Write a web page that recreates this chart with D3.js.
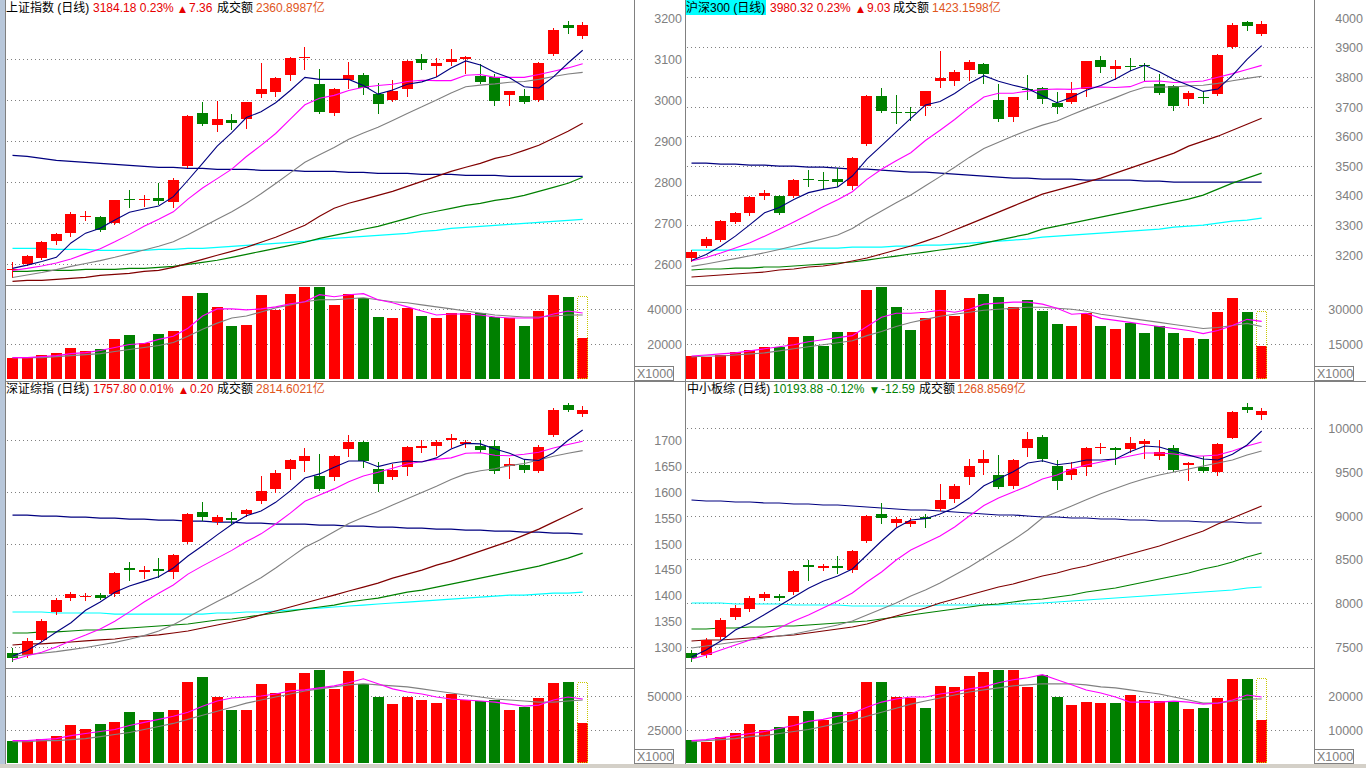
<!DOCTYPE html>
<html><head><meta charset="utf-8">
<script src="https://cdnjs.cloudflare.com/ajax/libs/d3/7.8.5/d3.min.js"></script>
<style>html,body{margin:0;padding:0;background:#fff;overflow:hidden}svg{display:block}</style>
</head><body>
<svg id="c" width="1366" height="768"></svg>
<script>
// ---------------- 上证指数 ----------------
const shTitle=['上证指数 (日线)','3184.18 0.23%','▲','7.36','成交额','2360.8987亿'];
const shOpen=[2588,2600,2614.6,2656.1,2675.6,2716,2714.6,2700,2759,2758,2761,2751.2,2839,2968.3,2939,2951.2,2953.7,3014.6,3019.5,3061,3103.5,3039,2968.3,3048.8,3061,3014.6,3000,3026.8,3100,3082.9,3092.7,3100,3058.5,3056.1,3012.2,3009.8,3000,3112.2,3182.9,3158.5];
const shHigh=[2604.9,2622,2656,2675.6,2726.8,2729.3,2717.1,2758,2780.5,2768.3,2797.6,2810,2963,2995.1,2997.6,2965.9,2997,3090.2,3056,3105,3129.3,3075.6,3029.3,3092.7,3065.9,3041.5,3048.8,3097.6,3112.2,3102.4,3124.4,3107.3,3087.8,3063.4,3023,3026.8,3092.7,3175.6,3192.7,3190.2];
const shLow=[2568.3,2597.6,2612,2648.8,2668.3,2707.3,2680.5,2698,2739,2741.5,2746.3,2739,2837,2939,2924.4,2929.3,2931.7,3007.3,3009.8,3048.8,3075.6,2970,2963.4,3029.3,3014.6,2968.3,2999,3009.8,3075.6,3058.5,3085.4,3065.9,3041.5,2987.8,2987.8,2992.7,2998,3111,3163.4,3151.2];
const shClose=[2589.5,2619.5,2653.7,2673.2,2722,2717.1,2682.9,2756.1,2758,2759,2753.7,2804.9,2961,2941.5,2953.7,2943.9,2995.1,3026.8,3053.7,3102.4,3104.9,2970.7,3026.8,3061,3029.3,2990.2,3022,3095.1,3090.2,3090.2,3100,3104.9,3043.9,2997.6,3022,2995.1,3090.2,3170.7,3176.8,3184.18];
const shMa5=[2590,2598,2607,2617,2652,2676,2688,2708,2727,2735,2742,2765,2805,2846,2888,2921,2958,2972,2994,3024,3056,3051,3051,3051,3036,3015,3025,3039,3045,3057,3079,3096,3086,3068,3055,3033,3030,3057,3091,3122];
const shMa10=[2585,2590,2596,2603,2613,2626,2638,2655,2673,2693,2710,2728,2759,2786,2809,2832,2863,2890,2919,2954,2989,3005,3012,3024,3032,3036,3039,3046,3049,3048,3048,3061,3063,3056,3056,3056,3063,3071,3079,3089];
const shMa20=[2568,2574,2580,2587,2595,2602,2609,2617,2626,2635,2644,2655,2672,2691,2710,2728,2749,2772,2797,2823,2849,2867,2885,2905,2920,2934,2951,2968,2984,3001,3018,3033,3037,3040,3044,3046,3051,3058,3064,3068];
const shMa60=[2558.5,2561,2561,2563.4,2565.9,2568.3,2573.2,2575.6,2578,2582.9,2585.4,2592.7,2602.4,2612.2,2622,2631.7,2641.5,2653.7,2665.9,2680.5,2695.1,2717.1,2736.6,2748.8,2758.5,2768.3,2778,2790.2,2802.4,2814.6,2826.8,2836.6,2846.3,2858.5,2865.9,2878,2890.2,2907.3,2924.4,2943.9];
const shMa120=[2582.9,2582.9,2585.4,2585.4,2585.4,2587.8,2587.8,2587.8,2590.2,2590.2,2592.7,2595.1,2600,2604.9,2609.8,2617.1,2624.4,2631.7,2639,2646.3,2653.7,2663.4,2670.7,2678,2685.4,2692.7,2702.4,2712.2,2722,2729.3,2736.6,2743.9,2748.8,2756.1,2761,2768.3,2778,2787.8,2797.6,2812.2];
const shMa250=[2865.9,2863.4,2858.5,2853.7,2851.2,2848.8,2846.3,2843.9,2841.5,2839,2836.6,2836.6,2834.1,2834.1,2831.7,2831.7,2831.7,2829.3,2829.3,2829.3,2826.8,2826.8,2826.8,2824.4,2824.4,2822,2822,2822,2819.5,2819.5,2819.5,2817.1,2817.1,2817.1,2814.6,2814.6,2814.6,2814.6,2814.6,2814.6];
const shMaCyan=[2639,2639,2639,2636.6,2636.6,2636.6,2634.1,2634.1,2634.1,2634.1,2636.6,2636.6,2639,2639,2641.5,2643.9,2646.3,2648.8,2651.2,2653.7,2656.1,2661,2663.4,2665.9,2668.3,2670.7,2673.2,2675.6,2680.5,2682.9,2687.8,2690.2,2692.7,2695.1,2697.6,2700,2702.4,2704.9,2707.3,2709.8];
const shVol=[12243,12243,13992,15158,18073,16324,17490,22737,25069,20405,25652,27401,47806,49555,41393,30316,30899,48389,39644,48972,53053,53053,42559,48972,46640,35563,34980,40810,36146,34980,37895,37895,37895,35563,34980,30316,39061,48389,47223,23320];
const shVolForecast=47806;
const shVolMa5=[12243,12243,12826,13409,14575,15158,16324,18073,19822,20405,22737,24486,29150,36146,40227,40227,39644,40227,41393,43142,44308,48389,47223,48389,48972,45474,43725,41393,39061,36729,37312,37312,36729,35563,34980,34980,34980,37312,39061,37895];
const shVolMa10=[12243,12243,12243,12826,13409,13992,14575,15741,16907,18073,19239,20988,24486,28567,32065,34980,36146,38478,40810,42559,44308,45474,45474,46057,46640,45474,44308,43725,42559,41393,40227,39061,37895,36729,36146,35563,35563,36146,36729,36729];
const shTicks=[3200,3100,3000,2900,2800,2700,2600];
const shGrid=[3100,3000,2900,2800,2700,2600];
const shVolTicks=[40000,20000];

// ---------------- 沪深300 ----------------
const hsTitle=['沪深300 (日线)','3980.32 0.23%','▲','9.03','成交额','1423.1598亿'];
const hsOpen=[3188,3228.6,3249,3309.5,3340,3397,3397,3397,3456,3453,3455,3431,3573,3735,3682,3680,3701,3785,3785,3822,3843,3721,3664,3760,3762,3711,3714,3758,3856,3826,3837,3839,3775,3768,3725,3733,3741,3900,3984,3947];
const hsHigh=[3215,3259,3316,3345,3397,3418,3400,3455,3485,3478,3492,3530,3738,3761,3738,3697,3753,3886,3822,3856,3846,3775,3733,3806,3765,3748,3782,3855,3870,3856,3863,3846,3809,3772,3752,3752,3876,3981,3988,3988];
const hsLow=[3178,3225,3245,3305,3335,3387,3336,3394,3431,3424,3431,3420,3570,3681,3644,3654,3670,3765,3772,3789,3778,3650,3650,3725,3711,3677,3712,3735,3816,3792,3822,3785,3741,3687,3704,3711,3740,3898,3957,3940];
const hsClose=[3208,3252,3313,3340,3394,3407,3340,3451,3453,3450,3445,3525,3735,3684,3680,3677,3751,3795,3816,3849,3809,3657,3731,3756,3725,3698,3745,3853,3833,3836,3835,3836,3745,3701,3745,3730,3873,3974,3971.29,3980.32];
const hsMa5=[3180,3200,3228,3262,3301,3341,3359,3386,3409,3420,3428,3465,3522,3568,3614,3660,3705,3717,3744,3778,3804,3785,3772,3760,3736,3713,3731,3755,3771,3793,3820,3839,3817,3791,3772,3751,3759,3805,3859,3906];
const hsMa10=[3178,3190,3205,3222,3240,3262,3285,3310,3335,3361,3385,3412,3454,3488,3517,3544,3585,3620,3656,3696,3732,3745,3745,3752,3757,3759,3758,3764,3766,3764,3767,3785,3786,3781,3783,3786,3799,3811,3825,3839];
const hsMa20=[3160,3168,3177,3186,3196,3206,3217,3229,3241,3253,3266,3288,3319,3347,3375,3401,3432,3463,3495,3528,3558,3579,3600,3620,3637,3651,3672,3692,3711,3730,3750,3765,3766,3766,3770,3772,3778,3787,3795,3802];
const hsMa60=[3124,3127.4,3130.8,3134.1,3137.5,3140.9,3147.6,3151,3157.7,3161.1,3167.8,3178,3188.1,3201.6,3215.1,3228.6,3245.4,3262.3,3282.6,3302.8,3323,3343.3,3363.5,3383.8,3404,3417.5,3431,3444.5,3458,3474.9,3491.7,3508.6,3525.5,3542.4,3566,3582.8,3599.7,3619.9,3640.2,3660.4];
const hsMa120=[3147.6,3151,3151,3154.3,3154.3,3157.7,3157.7,3161.1,3164.5,3167.8,3171.2,3174.6,3181.3,3188.1,3194.8,3201.6,3208.3,3215.1,3221.8,3228.6,3238.7,3248.8,3258.9,3269.1,3285.9,3296.1,3306.2,3316.3,3326.4,3336.5,3346.7,3356.8,3366.9,3377,3387.2,3400.6,3420.9,3441.1,3458,3474.9];
const hsMa250=[3508.6,3508.6,3505.2,3505.2,3501.9,3501.9,3498.5,3498.5,3495.1,3495.1,3491.7,3488.4,3488.4,3485,3481.6,3478.3,3478.3,3474.9,3471.5,3468.1,3464.8,3461.4,3458,3458,3454.6,3454.6,3454.6,3451.3,3451.3,3451.3,3451.3,3447.9,3447.9,3444.5,3444.5,3444.5,3444.5,3444.5,3444.5,3444.5];
const hsMaCyan=[3215.1,3215.1,3215.1,3215.1,3218.5,3218.5,3218.5,3218.5,3221.8,3221.8,3221.8,3225.2,3225.2,3225.2,3228.6,3228.6,3232,3232,3235.3,3238.7,3242.1,3245.4,3248.8,3252.2,3258.9,3262.3,3265.7,3269.1,3272.4,3275.8,3279.2,3282.6,3285.9,3292.7,3296.1,3299.4,3306.2,3312.9,3316.3,3323];
const hsVol=[9813,9381,10245,11542,12407,13704,13704,18027,18459,14136,20188,20188,37913,39210,30564,21053,25808,37913,26673,34454,36184,34887,30564,33590,28834,23215,22350,27970,22350,21485,23647,19756,22350,19756,17595,17162,28402,34454,28402,14136];
const hsVolForecast=28834;
const hsVolMa5=[9813,10245,10678,11110,11975,12839,13704,14569,15865,16730,17595,18459,22350,26241,27970,27970,28402,29267,28402,29699,31861,32293,32725,32725,31861,30132,27538,27970,25808,24944,24079,23215,22350,21485,20621,19324,20621,22782,25376,24511];
const hsVolMa10=[9381,9813,9813,10245,10678,11110,11975,12839,13704,14569,15433,16297,18459,20188,22350,24079,25376,26673,27538,28402,29267,29699,30132,30564,30564,30132,29699,28834,27538,26673,25808,24944,24079,23215,22350,21485,21917,22782,23647,22350];
const hsTicks=[4000,3900,3800,3700,3600,3500,3400,3300,3200];
const hsGrid=[3900,3800,3700,3600,3500,3400,3300,3200];
const hsVolTicks=[30000,15000];

// ---------------- 深证综指 ----------------
const szTitle=['深证综指 (日线)','1757.80 0.01%','▲','0.20','成交额','2814.6021亿'];
const szOpen=[1288.5,1284.6,1313.6,1367.7,1394.7,1396.7,1400.5,1402.5,1452.7,1445,1450.8,1445,1502.9,1560.9,1541.6,1549.3,1557,1582.1,1605.3,1644,1659.4,1630.4,1628.5,1682.6,1696.1,1644,1628.5,1647.8,1684.5,1688.4,1700,1692.3,1688.4,1688.4,1649.8,1651.7,1640.1,1709.7,1767.6,1750.2];
const szHigh=[1298.1,1317.5,1354.2,1394.7,1406.3,1404.4,1404.4,1445,1464.3,1456.6,1472,1479.8,1559,1580.2,1555.1,1560.9,1566.7,1630.4,1642,1663.3,1684.5,1673,1671,1709.7,1698.1,1657.5,1653.6,1688.4,1700,1700,1711.6,1700,1700,1700,1665.2,1661.4,1690.3,1761.8,1771.5,1765.7];
const szLow=[1273,1280.8,1311.7,1363.8,1390.9,1390.9,1392.8,1398.6,1429.5,1433.4,1435.3,1433.4,1501,1545.4,1537.7,1539.6,1553.2,1578.3,1599.5,1624.7,1640.1,1603.4,1622.7,1669.1,1647.8,1601.5,1624.7,1632.4,1676.8,1671,1686.5,1686.5,1676.8,1636.2,1626.6,1638.2,1638.2,1707.7,1756,1746.4];
const szClose=[1278.8,1311.7,1350.3,1390.9,1402.5,1398.6,1394.7,1443,1448.8,1448.8,1446.9,1477.8,1557,1551.2,1551.2,1545.4,1564.8,1601.5,1636.2,1661.4,1669.1,1605.3,1669.1,1696.1,1659.4,1615,1642,1686.5,1688.4,1696.1,1703.9,1696.1,1680.7,1640.1,1653.6,1642,1686.5,1758,1757.6,1757.8];
const szMa5=[1282,1293,1310,1329,1347,1371,1387,1406,1418,1427,1436,1453,1476,1496,1517,1537,1554,1563,1580,1602,1627,1635,1648,1660,1660,1649,1656,1660,1658,1666,1683,1694,1693,1683,1675,1663,1661,1676,1700,1720];
const szMa10=[1275,1283,1290,1300,1312,1323,1335,1350,1368,1387,1404,1420,1441,1457,1472,1487,1504,1519,1538,1559,1582,1594,1606,1620,1631,1638,1646,1654,1659,1663,1666,1675,1676,1671,1670,1673,1677,1685,1692,1698];
const szMa20=[1282,1285,1288,1291,1295,1299,1304,1309,1315,1322,1331,1343,1358,1373,1388,1402,1418,1434,1453,1473,1493,1507,1523,1539,1551,1562,1575,1587,1599,1611,1624,1635,1641,1645,1651,1655,1662,1669,1675,1680];
const szMa60=[1303.9,1305.9,1305.9,1307.8,1309.7,1311.7,1313.6,1315.5,1319.4,1321.3,1323.3,1327.1,1331,1336.8,1342.6,1348.4,1354.2,1361.9,1369.6,1377.4,1385.1,1392.8,1400.5,1408.3,1416,1423.7,1433.4,1441.1,1448.8,1458.5,1466.2,1475.9,1485.5,1495.2,1504.9,1516.5,1528.1,1541.6,1555.1,1568.6];
const szMa120=[1327.1,1327.1,1329.1,1329.1,1331,1332.9,1332.9,1334.9,1336.8,1338.7,1340.6,1342.6,1344.5,1348.4,1352.2,1354.2,1358,1361.9,1365.8,1369.6,1373.5,1377.4,1381.2,1387,1390.9,1394.7,1400.5,1406.3,1410.2,1416,1421.8,1427.6,1433.4,1439.2,1445,1450.8,1456.6,1464.3,1472,1481.7];
const szMa250=[1555.1,1555.1,1553.2,1553.2,1551.2,1551.2,1549.3,1549.3,1547.4,1547.4,1545.4,1545.4,1543.5,1543.5,1541.6,1541.6,1539.6,1539.6,1537.7,1537.7,1537.7,1535.8,1535.8,1533.8,1533.8,1531.9,1531.9,1530,1530,1528.1,1528.1,1526.1,1526.1,1524.2,1524.2,1522.3,1522.3,1520.3,1520.3,1518.4];
const szMaCyan=[1367.7,1367.7,1367.7,1365.8,1365.8,1365.8,1365.8,1363.8,1363.8,1363.8,1363.8,1363.8,1363.8,1363.8,1365.8,1365.8,1367.7,1367.7,1369.6,1371.6,1373.5,1375.4,1377.4,1379.3,1381.2,1383.2,1385.1,1387,1388.9,1390.9,1392.8,1394.7,1396.7,1398.6,1400.5,1400.5,1402.5,1404.4,1404.4,1406.3];
const szVol=[16667,16667,18182,20455,28031,25001,28789,30304,37880,31819,37880,39395,60608,64396,49244,39395,39395,59093,52274,59850,67426,69699,55305,68942,59093,49244,43941,49244,46971,44698,51517,46971,46214,46971,39395,41668,48486,59850,60608,29546];
const szVolForecast=60608;
const szVolMa5=[16667,16667,17425,18182,20455,21970,23486,25001,28031,30304,32577,34850,37880,42426,46214,48486,49244,50002,51517,53790,54547,56062,57578,59850,62881,59093,55305,53032,51517,49244,47729,46971,46214,45456,43941,42426,43183,46971,49244,47729];
const szVolMa10=[15910,15910,16667,16667,17425,18182,19698,21213,22728,25001,27274,29546,32577,35607,38638,41668,44698,46971,49244,51517,53790,55305,56820,58335,59093,58335,57578,56820,55305,53790,52274,50759,49244,47729,46971,46214,45456,45456,46214,46971];
const szTicks=[1700,1650,1600,1550,1500,1450,1400,1350,1300];
const szGrid=[1700,1600,1500,1400,1300];
const szVolTicks=[50000,25000];

// ---------------- 中小板综 ----------------
const zxTitle=['中小板综 (日线)','10193.88 -0.12%','▼','-12.59','成交额','1268.8569亿'];
const zxOpen=[7431.4,7408.6,7614,7842.4,7933.7,8059.3,8082.1,8127.8,8436,8401.8,8424.6,8378.9,8710,9018.2,8915.5,8904.1,8984,9075.3,9189.5,9440.6,9600.4,9463.4,9337.9,9771.7,9897.3,9566.2,9463.4,9554.8,9777,9771.7,9760.3,9817.3,9680.4,9771.7,9577.6,9554.8,9497.7,9885.8,10239.7,10148.4];
const zxHigh=[7465.6,7602.6,7830.9,7979.4,8082.1,8127.8,8104.9,8378.9,8493.1,8447.4,8538.8,8607.2,9006.8,9143.8,8984,8972.6,9018.2,9360.7,9360.7,9646.1,9748.8,9691.8,9646.1,9954.3,9920.1,9634.7,9611.9,9783.1,9828.8,9783.1,9897.3,9874.4,9863,9805.9,9611.9,9680.4,9828.8,10194.1,10285.4,10228.3];
const zxLow=[7340,7385.8,7591.2,7819.5,7910.9,8036.4,8036.4,8104.9,8264.8,8378.9,8344.7,8356.1,8698.6,8915.5,8881.2,8881.2,8869.8,9063.9,9155.2,9360.7,9474.9,9315,9315,9680.4,9623.3,9303.6,9417.8,9463.4,9714.6,9589,9726,9657.5,9646.1,9509.1,9406.4,9497.7,9463.4,9885.8,10182.7,10102.7];
const zxClose=[7374.3,7579.8,7808.1,7945.1,8059.3,8104.9,8059.3,8367.5,8413.2,8424.6,8401.8,8595.8,8995.4,8972.6,8961.1,8938.3,8961.1,9178.1,9337.9,9566.2,9646.1,9326.5,9634.7,9874.4,9646.1,9394.9,9531.9,9771.7,9783.1,9748.8,9828.8,9851.6,9726,9520.5,9600.4,9509.1,9817.3,10182.7,10206.47,10193.88];
const zxMa5=[7385.7,7465.6,7568.4,7694,7775,7870,7970,8070.7,8170,8250,8310.4,8390.3,8550,8710,8858.4,8950,8965,9018.2,9090,9200,9340,9420,9500,9600.4,9626,9580,9600,9634.7,9634.7,9646.1,9730,9794.5,9783.1,9735,9690,9646.1,9634,9700,9805.9,9965.8];
const zxMa10=[7362.9,7408.6,7465.6,7522.7,7579.8,7648.3,7716.8,7796.7,7865.2,7945.1,8025,8116.4,8242,8356.1,8493.1,8607.2,8687.2,8767.1,8869.8,8995.4,9115,9200.9,9269.4,9337.9,9417.8,9463.4,9531.9,9577.6,9611.9,9646.1,9680.4,9714.6,9714.6,9703.2,9680.4,9680.4,9691.8,9737.4,9794.5,9840.2];
const zxMa20=[7488.5,7511.3,7534.1,7557,7579.8,7602.6,7625.5,7648.3,7682.6,7716.8,7751,7796.7,7865.2,7933.7,8002.2,8082.1,8150.6,8230.5,8321.8,8413.2,8515.9,8618.7,8721.4,8835.6,8972.6,9040,9110,9180,9250,9310,9370,9420,9463.4,9497.7,9531.9,9566.2,9600.4,9634.7,9691.8,9737.4];
const zxMa60=[7568.4,7579.8,7579.8,7591.2,7602.6,7614,7625.5,7636.9,7659.7,7682.6,7705.4,7728.2,7762.5,7808.1,7853.8,7899.5,7945.1,8002.2,8047.9,8093.5,8139.2,8184.9,8219.1,8264.8,8310.4,8344.7,8390.3,8424.6,8470.3,8515.9,8561.6,8607.2,8652.9,8710,8767.1,8824.2,8904.1,8972.6,9041,9109.5];
const zxMa120=[7705.4,7705.4,7716.8,7716.8,7728.2,7728.2,7739.6,7739.6,7751,7762.5,7773.9,7785.3,7796.7,7819.5,7842.4,7865.2,7888.1,7910.9,7933.7,7956.5,7979.4,7990.8,8013.6,8036.4,8047.9,8070.7,8093.5,8127.8,8150.6,8173.4,8207.7,8241.9,8276.2,8310.4,8344.7,8390.3,8424.6,8470.3,8527.3,8573];
const zxMa250=[9178.1,9166.6,9166.6,9155.2,9155.2,9143.8,9143.8,9132.4,9132.4,9121,9121,9109.5,9098.1,9086.7,9075.3,9063.9,9063.9,9052.5,9041,9029.6,9018.2,9006.8,9006.8,8995.4,8984,8984,8972.6,8972.6,8961.1,8961.1,8949.7,8949.7,8938.3,8938.3,8938.3,8926.9,8926.9,8926.9,8915.5,8915.5];
const zxMaCyan=[8002.2,8002.2,8002.2,7990.8,7990.8,7990.8,7990.8,7979.4,7979.4,7979.4,7979.4,7968,7968,7968,7968,7968,7968,7979.4,7979.4,7979.4,7979.4,7979.4,7990.8,7990.8,8002.2,8013.6,8025,8036.4,8047.9,8059.3,8070.7,8082.1,8093.5,8104.9,8116.4,8127.8,8139.2,8150.6,8173.4,8184.9];
const zxVol=[6969,6363,7878,9090,11514,9999,10605,13938,15453,12726,15150,15150,24240,24240,19695,19392,16362,23028,22725,26058,27270,27876,27876,22725,26361,19695,17271,18180,17877,17877,20301,18786,18483,18180,16059,16362,19392,25149,25149,12726];
const zxVolForecast=25452;
const zxVolMa5=[6666,6969,7575,8181,8787,9393,10302,11211,12423,13029,13938,14847,16665,18180,19089,19695,19695,20604,21210,22119,22725,23937,24846,25452,26361,24846,23331,21816,20907,19695,18180,18180,18180,18483,18180,17574,17877,18786,20301,19695];
const zxVolMa10=[6363,6666,6969,7272,7878,8181,8787,9393,9999,10908,11817,12726,13938,15150,16362,17574,18483,19392,20301,21210,21816,22422,23028,23331,23634,23634,23634,23331,22725,22422,21816,21210,20604,19695,18786,17877,17877,18483,19089,19089];
const zxTicks=[10000,9500,9000,8500,8000,7500];
const zxGrid=[10000,9500,9000,8500,8000,7500];
const zxVolTicks=[20000,10000];

// ---------------- drawing ----------------
const RED='#ff0000', GREEN='#008000', GRAYC='#808080';
const FONT="'Liberation Sans','Noto Sans CJK SC',sans-serif";
const svg=d3.select('#c');
svg.append('rect').attr('width',1366).attr('height',768).attr('fill','#fff');

function drawPanel(p){
  const g=svg.append('g');
  const n=p.close.length;
  const idx=d3.range(n);
  const x=d3.scaleLinear().domain([0,39]).range([p.firstX,p.firstX+14.62*39]);
  const y=d3.scaleLinear().domain(p.priceDomain).range(p.priceRange);
  const yv=d3.scaleLinear().domain(p.volDomain).range(p.volRange);
  const px=i=>Math.round(x(i));

  g.selectAll(null).data(p.grid).join('line')
    .attr('x1',p.left+1).attr('x2',p.right-2)
    .attr('y1',d=>Math.round(y(d))+0.5).attr('y2',d=>Math.round(y(d))+0.5)
    .attr('stroke',GRAYC).attr('stroke-dasharray','1,3').attr('shape-rendering','crispEdges');
  g.selectAll(null).data(p.volTicks).join('line')
    .attr('x1',p.left+1).attr('x2',p.right-2)
    .attr('y1',d=>Math.round(yv(d))+0.5).attr('y2',d=>Math.round(yv(d))+0.5)
    .attr('stroke',GRAYC).attr('stroke-dasharray','1,3').attr('shape-rendering','crispEdges');
  g.selectAll(null).data(p.ticks).join('text')
    .attr('x',p.labelX).attr('y',d=>y(d)+5).attr('text-anchor','end')
    .attr('font-family',FONT).attr('font-size','12.5px').attr('fill',GRAYC).text(d=>d);
  g.selectAll(null).data(p.volTicks).join('text')
    .attr('x',p.labelX).attr('y',d=>yv(d)+5).attr('text-anchor','end')
    .attr('font-family',FONT).attr('font-size','12.5px').attr('fill',GRAYC).text(d=>d);
  g.append('rect').attr('x',p.boxX+0.5).attr('y',p.boxY+0.5).attr('width',39).attr('height',14)
    .attr('fill','#fff').attr('stroke',GRAYC).attr('shape-rendering','crispEdges');
  g.append('text').attr('x',p.boxX+3).attr('y',p.boxY+12).attr('font-family',FONT)
    .attr('font-size','12.5px').attr('fill',GRAYC).text('X1000');

  const colorOf=i=>p.close[i]>=p.open[i]?RED:GREEN;
  const line=arr=>d3.line().x((d,i)=>x(i)+0.5).y(d=>y(d))(arr);
  const vline=arr=>d3.line().x((d,i)=>x(i)+0.5).y(d=>yv(d))(arr);

  const longMas=[[p.maCyan,'#00ffff'],[p.ma250,'#000080'],[p.ma120,'#008000'],[p.ma60,'#800000']];
  longMas.forEach(([a,c])=>g.append('path').attr('d',line(a)).attr('fill','none').attr('stroke',c).attr('stroke-width',1.2));

  const cg=g.append('g').attr('shape-rendering','crispEdges');
  cg.selectAll(null).data(idx).join('line')
    .attr('x1',i=>px(i)+0.5).attr('x2',i=>px(i)+0.5)
    .attr('y1',i=>Math.round(y(p.high[i]))).attr('y2',i=>Math.round(y(p.low[i]))+1)
    .attr('stroke',colorOf);
  cg.selectAll(null).data(idx).join('rect')
    .attr('x',i=>px(i)-5).attr('width',11)
    .attr('y',i=>Math.round(y(Math.max(p.open[i],p.close[i]))))
    .attr('height',i=>Math.max(1,Math.round(Math.abs(y(p.open[i])-y(p.close[i])))))
    .attr('fill',colorOf);

  const shortMas=[[p.ma20,'#808080'],[p.ma10,'#ff00ff'],[p.ma5,'#000080']];
  shortMas.forEach(([a,c])=>g.append('path').attr('d',line(a)).attr('fill','none').attr('stroke',c).attr('stroke-width',1.1));

  const vg=g.append('g').attr('shape-rendering','crispEdges');
  vg.selectAll(null).data(idx).join('rect')
    .attr('x',i=>px(i)-5).attr('width',11)
    .attr('y',i=>Math.round(yv(p.vol[i])))
    .attr('height',i=>Math.round(yv(0))-Math.round(yv(p.vol[i])))
    .attr('fill',colorOf);
  const li=n-1;
  vg.append('rect').attr('x',px(li)-4.5).attr('width',10)
    .attr('y',Math.round(yv(p.volForecast))+0.5)
    .attr('height',Math.round(yv(0))-Math.round(yv(p.volForecast))-1)
    .attr('fill','none').attr('stroke','#c8c800').attr('stroke-dasharray','1,1');
  [[p.volMa10,'#808080'],[p.volMa5,'#ff00ff']].forEach(([a,c])=>
    g.append('path').attr('d',vline(a)).attr('fill','none').attr('stroke',c).attr('stroke-width',1.1));

  // title
  const t=p.title, tx=p.titleX;
  const qc=p.up?'#e60000':'#008000';
  if(p.highlight){
    g.append('rect').attr('x',tx[0]).attr('y',0).attr('width',p.highlight).attr('height',15).attr('fill','#00ffff');
  }
  const txt=(s,xx,c,extra)=>{const e=g.append('text').attr('x',xx).attr('y',p.titleY)
    .attr('font-family',FONT).attr('font-size','12px').attr('fill',c).text(s); if(extra) extra(e); return e;};
  txt(t[0],tx[0],'#000');
  txt(t[1],tx[1],qc);
  txt(t[2],tx[2],qc,e=>e.attr('font-family',"'DejaVu Sans',sans-serif").attr('font-size','9px'));
  txt(t[3],tx[2]+10,qc);
  txt(t[4],tx[3],'#000');
  txt(t[5],tx[4],'#e0561c');
}

drawPanel({left:6,right:634,firstX:12,priceDomain:[2600,3100],priceRange:[264.3,59.3],volDomain:[0,40000],volRange:[379,309.3],
  labelX:682,boxX:634,boxY:366,titleY:12,titleX:[6,93,179,217,256],title:shTitle,up:true,
  open:shOpen,high:shHigh,low:shLow,close:shClose,ma5:shMa5,ma10:shMa10,ma20:shMa20,ma60:shMa60,ma120:shMa120,ma250:shMa250,maCyan:shMaCyan,
  vol:shVol,volForecast:shVolForecast,volMa5:shVolMa5,volMa10:shVolMa10,ticks:shTicks,grid:shGrid,volTicks:shVolTicks});
drawPanel({left:686,right:1314,firstX:691,priceDomain:[3200,3900],priceRange:[254.5,47.3],volDomain:[0,30000],volRange:[379,308.5],
  labelX:1363,boxX:1314,boxY:366,titleY:12,titleX:[686,770,857,893,932],title:hsTitle,up:true,highlight:80,
  open:hsOpen,high:hsHigh,low:hsLow,close:hsClose,ma5:hsMa5,ma10:hsMa10,ma20:hsMa20,ma60:hsMa60,ma120:hsMa120,ma250:hsMa250,maCyan:hsMaCyan,
  vol:hsVol,volForecast:hsVolForecast,volMa5:hsVolMa5,volMa10:hsVolMa10,ticks:hsTicks,grid:hsGrid,volTicks:hsVolTicks});
drawPanel({left:6,right:634,firstX:12,priceDomain:[1300,1700],priceRange:[647,440.3],volDomain:[0,50000],volRange:[763,696],
  labelX:682,boxX:634,boxY:749,titleY:393,titleX:[6,93,180,217,256],title:szTitle,up:true,
  open:szOpen,high:szHigh,low:szLow,close:szClose,ma5:szMa5,ma10:szMa10,ma20:szMa20,ma60:szMa60,ma120:szMa120,ma250:szMa250,maCyan:szMaCyan,
  vol:szVol,volForecast:szVolForecast,volMa5:szVolMa5,volMa10:szVolMa10,ticks:szTicks,grid:szGrid,volTicks:szVolTicks});
drawPanel({left:686,right:1314,firstX:691,priceDomain:[7500,10000],priceRange:[647,428],volDomain:[0,20000],volRange:[763,696],
  labelX:1363,boxX:1314,boxY:749,titleY:393,titleX:[687,773,871,919,957],title:zxTitle,up:false,
  open:zxOpen,high:zxHigh,low:zxLow,close:zxClose,ma5:zxMa5,ma10:zxMa10,ma20:zxMa20,ma60:zxMa60,ma120:zxMa120,ma250:zxMa250,maCyan:zxMaCyan,
  vol:zxVol,volForecast:zxVolForecast,volMa5:zxVolMa5,volMa10:zxVolMa10,ticks:zxTicks,grid:zxGrid,volTicks:zxVolTicks});

// frame
const fr=svg.append('g').attr('stroke',GRAYC).attr('shape-rendering','crispEdges');
svg.append('rect').attr('x',0).attr('y',0).attr('width',5).attr('height',768).attr('fill','#b8c7da');
[[5.5,0,5.5,765],[634.5,0,634.5,765],[685.5,0,685.5,765],[1314.5,0,1314.5,765]].forEach(a=>
  fr.append('line').attr('x1',a[0]).attr('y1',a[1]).attr('x2',a[2]).attr('y2',a[3]));
[[5,285.5,634,285.5],[685,285.5,1314,285.5],[5,668.5,634,668.5],[685,668.5,1314,668.5],[5,381.5,1366,381.5]].forEach(a=>
  fr.append('line').attr('x1',a[0]).attr('y1',a[1]).attr('x2',a[2]).attr('y2',a[3]));
svg.append('rect').attr('x',0).attr('y',764).attr('width',1366).attr('height',4).attr('fill','#d4d0c8');
fr.append('line').attr('x1',0).attr('y1',764.5).attr('x2',1366).attr('y2',764.5);
</script>
</body></html>
